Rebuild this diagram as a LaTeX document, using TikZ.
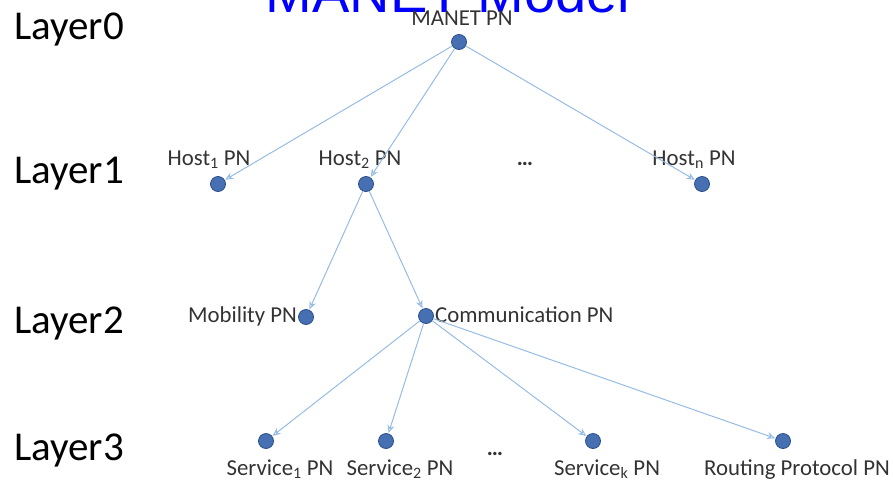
\documentclass[tikz,border=0pt]{standalone}
\usepackage{fontspec}
\setmainfont{Carlito}
\newfontfamily\titlefont{Liberation Sans}
\usetikzlibrary{arrows.meta}
\definecolor{pnfill}{RGB}{70,112,178}
\definecolor{pnedge}{RGB}{42,78,140}
\definecolor{linkblue}{RGB}{150,188,228}
\definecolor{titleblue}{RGB}{0,0,255}
\begin{document}
\begin{tikzpicture}[x=1pt, y=-1pt,
  pn/.style={circle, draw=pnedge, fill=pnfill, minimum size=15pt, inner sep=0pt, line width=0.8pt},
  lbl/.style={font=\fontsize{22.8}{26}\selectfont, text=black!80, inner sep=0pt},
  layer/.style={font=\fontsize{41}{47}\selectfont, anchor=base west, inner sep=0pt},
  link/.style={draw=linkblue, line width=1pt, -{Stealth[open, length=8pt, width=7pt]}, shorten >=0.5pt}
]
\useasboundingbox (0,0) rectangle (893,485);
% title, cut at the top edge
\node[font=\titlefont\fontsize{56}{60}\selectfont, text=titleblue, anchor=base, inner sep=0pt] (title) at (448,12) {MANET Model};
% layer names
\foreach \l/\y in {0/39,1/183,2/333,3/460}
  \node[layer] (layer\l) at (14,\y) {Layer\l};
% place nodes
\node[pn] (manet) at (459,42) {};
\node[pn] (host1) at (218,184) {};
\node[pn] (host2) at (366,184) {};
\node[pn] (hostn) at (702,184) {};
\node[pn] (mob) at (306,317) {};
\node[pn] (comm) at (426,316) {};
\node[pn] (serv1) at (266,441) {};
\node[pn] (serv2) at (386,441) {};
\node[pn] (servk) at (593,441) {};
\node[pn] (route) at (783,441) {};
% labels
\node[lbl, anchor=base] (manetl) at (462,25) {MANET PN};
\node[lbl, anchor=base] (host1l) at (209,165) {Host\textsubscript{1} PN};
\node[lbl, anchor=base] (host2l) at (360,165) {Host\textsubscript{2} PN};
\node[lbl, anchor=base] (hostnl) at (694,165) {Host\textsubscript{n} PN};
\node[lbl, anchor=base] (dots1) at (525,165) {\textbf{\dots}};
\node[lbl, anchor=base east] (mobl) at ([xshift=-1pt]mob.west |- 0,322) {Mobility PN};
\node[lbl, anchor=base west] (comml) at ([xshift=1pt]comm.east |- 0,322) {Communication PN};
\node[lbl, anchor=base] (serv1l) at (280,475) {Service\textsubscript{1} PN};
\node[lbl, anchor=base] (serv2l) at (400,475) {Service\textsubscript{2} PN};
\node[lbl, anchor=base] (servkl) at (607,475) {Service\textsubscript{k} PN};
\node[lbl, anchor=base] (routel) at (797,475) {Routing Protocol PN};
\node[lbl, anchor=base] (dots3) at (495,455) {\textbf{\dots}};
% links
\foreach \a/\b in {manet/host1, manet/host2, manet/hostn, host2/mob, host2/comm,
                   comm/serv1, comm/serv2, comm/servk, comm/route}
  \draw[link] (\a) -- (\b);
\end{tikzpicture}
\end{document}
